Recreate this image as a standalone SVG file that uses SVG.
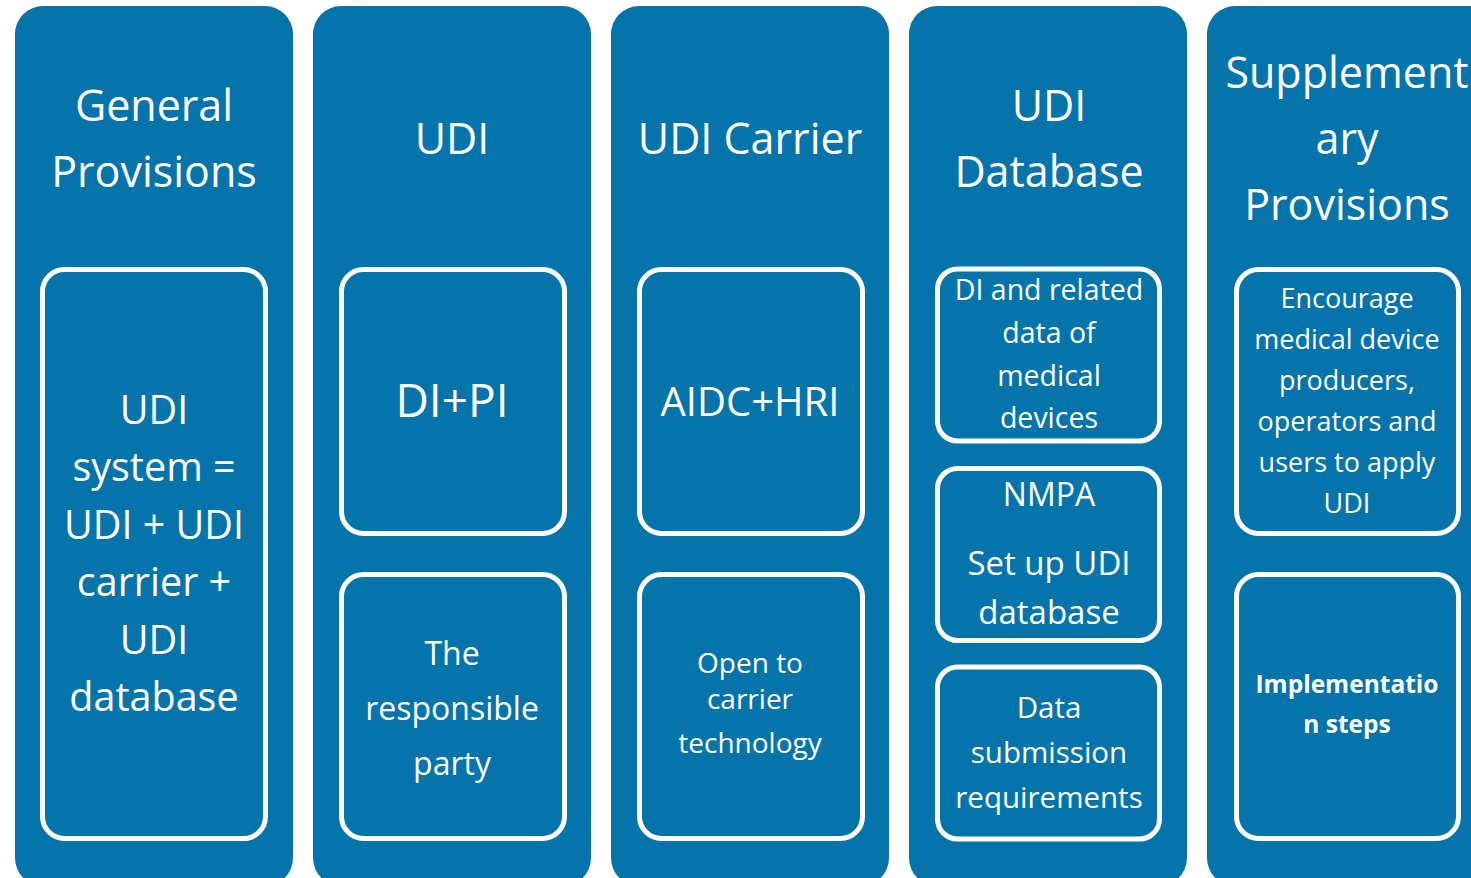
<svg xmlns="http://www.w3.org/2000/svg" width="1471" height="878" viewBox="0 0 1471 878">
<style>
.col{fill:#0474AB}
.box{fill:none;stroke:#FFFFFF;stroke-width:5}
text{font-family:"Open Sans","Noto Sans",sans-serif;fill:#FFFFFF;text-anchor:middle}
.t{font-size:43px}
</style>
<rect width="1471" height="878" fill="#FFFFFF"/>
<g id="col1">
<rect class="col" x="15" y="6" width="278" height="880" rx="28"/>
<text class="t" x="154" y="121">General</text>
<text class="t" x="154" y="187">Provisions</text>
<rect class="box" x="42.5" y="269.5" width="223" height="569" rx="22"/>
<g style="font-size:39.5px">
<text x="154" y="424">UDI</text>
<text x="154" y="481">system =</text>
<text x="154" y="539">UDI + UDI</text>
<text x="154" y="596">carrier +</text>
<text x="154" y="654">UDI</text>
<text x="154" y="711">database</text>
</g>
</g>
<g id="col2">
<rect class="col" x="313" y="6" width="278" height="880" rx="28"/>
<text class="t" x="452" y="154">UDI</text>
<rect class="box" x="341.5" y="269.5" width="223" height="264" rx="22"/>
<text x="452" y="417" style="font-size:46px">DI+PI</text>
<rect class="box" x="341.5" y="574.5" width="223" height="264" rx="22"/>
<g style="font-size:32px">
<text x="452" y="665">The</text>
<text x="452" y="720">responsible</text>
<text x="452" y="775">party</text>
</g>
</g>
<g id="col3">
<rect class="col" x="611" y="6" width="278" height="880" rx="28"/>
<text class="t" x="750" y="154">UDI Carrier</text>
<rect class="box" x="639.5" y="269.5" width="223" height="264" rx="22"/>
<text x="750" y="416" style="font-size:40px">AIDC+HRI</text>
<rect class="box" x="639.5" y="574.5" width="223" height="264" rx="22"/>
<g style="font-size:28px">
<text x="750" y="673">Open to</text>
<text x="750" y="709">carrier</text>
<text x="750" y="753">technology</text>
</g>
</g>
<g id="col4">
<rect class="col" x="909" y="6" width="278" height="880" rx="28"/>
<text class="t" x="1049" y="121">UDI</text>
<text class="t" x="1049" y="187">Database</text>
<rect class="box" x="937.5" y="269" width="222" height="172" rx="20"/>
<g style="font-size:28.5px">
<text x="1049" y="300">DI and related</text>
<text x="1049" y="343">data of</text>
<text x="1049" y="386">medical</text>
<text x="1049" y="428">devices</text>
</g>
<rect class="box" x="937.5" y="468.5" width="222" height="172" rx="20"/>
<text x="1049" y="506" style="font-size:32px">NMPA</text>
<text x="1049" y="575" style="font-size:33px">Set up UDI</text>
<text x="1049" y="624" style="font-size:33px">database</text>
<rect class="box" x="937.5" y="667" width="222" height="172" rx="20"/>
<g style="font-size:29.5px">
<text x="1049" y="718">Data</text>
<text x="1049" y="763">submission</text>
<text x="1049" y="808">requirements</text>
</g>
</g>
<g id="col5">
<rect class="col" x="1207" y="6" width="300" height="880" rx="28"/>
<text class="t" x="1347" y="88">Supplement</text>
<text class="t" x="1347" y="154">ary</text>
<text class="t" x="1347" y="220">Provisions</text>
<rect class="box" x="1236.5" y="269.5" width="222" height="264" rx="22"/>
<g style="font-size:27px">
<text x="1347" y="308">Encourage</text>
<text x="1347" y="349">medical device</text>
<text x="1347" y="390">producers,</text>
<text x="1347" y="431">operators and</text>
<text x="1347" y="472">users to apply</text>
<text x="1347" y="513">UDI</text>
</g>
<rect class="box" x="1236.5" y="574.5" width="222" height="264" rx="22"/>
<g style="font-size:24.5px;font-weight:bold">
<text x="1347" y="693">Implementatio</text>
<text x="1347" y="733">n steps</text>
</g>
</g>
<g id="connectors"/>
</svg>
